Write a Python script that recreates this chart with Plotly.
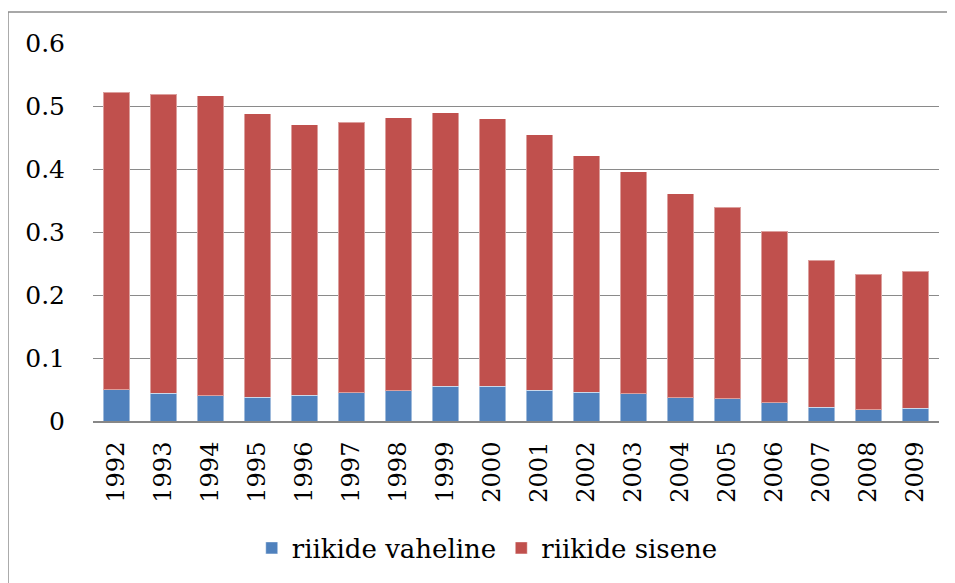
import plotly.graph_objects as go

years = ["1992", "1993", "1994", "1995", "1996", "1997", "1998", "1999", "2000",
         "2001", "2002", "2003", "2004", "2005", "2006", "2007", "2008", "2009"]
totals = [0.522, 0.519, 0.516, 0.488, 0.470, 0.474, 0.481, 0.489, 0.480,
          0.454, 0.421, 0.396, 0.361, 0.339, 0.301, 0.255, 0.233, 0.238]
vaheline = [0.050, 0.044, 0.040, 0.038, 0.041, 0.045, 0.048, 0.055, 0.055,
            0.049, 0.046, 0.043, 0.037, 0.035, 0.029, 0.022, 0.018, 0.020]
sisene = [round(t - v, 3) for t, v in zip(totals, vaheline)]

yticks = [0, 0.1, 0.2, 0.3, 0.4, 0.5, 0.6]
ytick_text = ["0", "0.1", "0.2", "0.3", "0.4", "0.5", "0.6"]

font_family = "DejaVu Serif"

fig = go.Figure()
fig.add_trace(go.Bar(x=years, y=vaheline, name="riikide vaheline",
                     marker=dict(color="#4F81BD", line=dict(color="rgba(255,255,255,0.45)", width=1))))
fig.add_trace(go.Bar(x=years, y=sisene, name="riikide sisene",
                     marker=dict(color="#C0504D", line=dict(color="rgba(255,255,255,0.45)", width=1))))

fig.update_layout(
    barmode="stack",
    bargap=0.43,
    width=955, height=583,
    margin=dict(l=85, r=24, t=35, b=170, autoexpand=False),
    paper_bgcolor="white",
    plot_bgcolor="white",
    font=dict(family=font_family, size=25, color="black"),
    showlegend=True,
    legend=dict(orientation="h", x=0.466, xanchor="center", y=-0.336, yanchor="middle",
                font=dict(size=26, family=font_family), traceorder="normal",
                itemwidth=30, bgcolor="rgba(0,0,0,0)"),
    xaxis=dict(tickangle=-90, showgrid=False, showline=True, linecolor="#878787", linewidth=2,
               ticks="", ticklabelstandoff=9, automargin=False,
               tickfont=dict(size=24, family=font_family)),
    yaxis=dict(range=[0, 0.6], tickvals=yticks, ticktext=ytick_text, showgrid=True,
               gridcolor="#8a8a8a", gridwidth=1.3, zeroline=False, showline=False,
               ticks="", ticklabelstandoff=27, automargin=False,
               tickfont=dict(size=25, family=font_family)),
    shapes=[dict(type="rect", xref="paper", yref="paper", x0=-0.1005, x1=1.05, y0=-0.5, y1=1.082,
                 line=dict(color="#8c8c8c", width=1.5), fillcolor="rgba(0,0,0,0)", layer="below")],
)

fig.write_html("out.html")
